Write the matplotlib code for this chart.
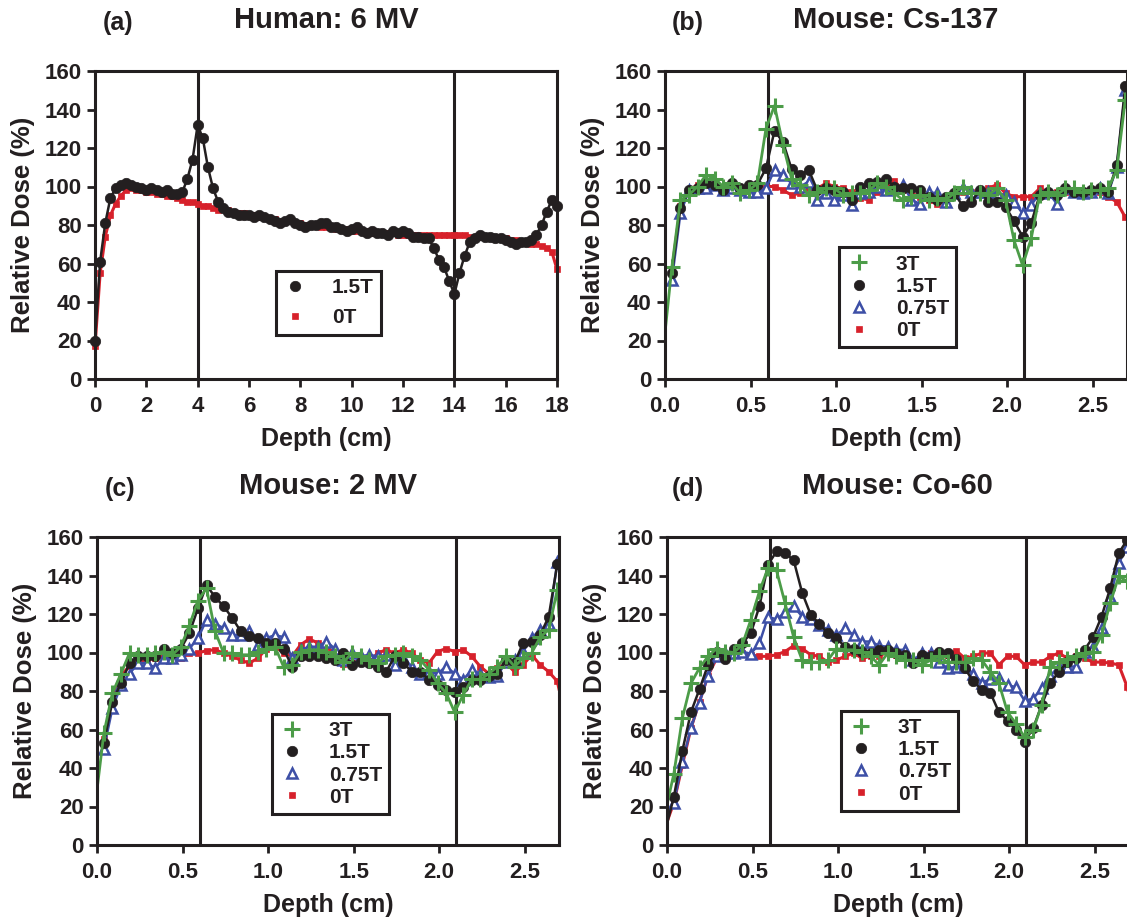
import numpy as np
import matplotlib
matplotlib.use("Agg")
import matplotlib.pyplot as plt
from matplotlib.lines import Line2D

plt.rcParams['font.family'] = ['Liberation Sans', 'DejaVu Sans']
plt.rcParams['font.weight'] = 'bold'

INK = '#231f20'
RED = '#d7212b'
GREEN = '#4c9c48'
BLUE = '#3d4fa6'

# --- (a) human 6 MV, depth grid 0..18 cm every 0.2 cm
depth_human = np.round(np.arange(0, 18.01, 0.2), 1)
human_15T = [20, 61, 81, 94, 99,   101, 102, 101, 100, 99,
             98, 99, 98, 97, 98,   96, 96, 97, 104, 114,
             132, 125, 110, 99, 92,   89, 87, 86, 85, 85,
             85, 84, 85, 84, 83,   82, 81, 82, 83, 81,
             80, 79, 80, 80, 81,   81, 79, 79, 78, 77,
             78, 79, 77, 76, 77,   76, 76, 75, 77, 76,
             77, 76, 74, 74, 73,   73, 68, 62, 58, 51,
             44, 55, 64, 71, 73,   75, 74, 74, 73, 73,
             72, 71, 70, 71, 71,   72, 75, 80, 87, 93,
             90]
human_0T = [17, 55, 74, 85, 91,   95, 98, 99, 98, 98,
            97, 97, 96, 96, 95,   95, 94, 93, 92, 92,
            91, 90, 90, 89, 88,   89, 88, 87, 86, 86,
            85, 85, 84, 84, 83,   83, 82, 82, 82, 81,
            81, 80, 80, 80, 79,   79, 79, 78, 78, 78,
            77, 77, 77, 77, 76,   76, 76, 76, 76, 75,
            75, 75, 75, 75, 75,   75, 75, 75, 75, 75,
            75, 75, 75, 74, 74,   74, 74, 74, 73, 73,
            73, 72, 72, 71, 71,   70, 70, 69, 68, 66,
            57]

# --- mouse panels: surface point, 0.04..2.69 cm every 0.05 cm, edge point
depth_mouse = np.round(np.concatenate(([0.0], np.arange(0.04, 2.695, 0.05), [2.7])), 3)
nan = np.nan

# (b) Cs-137
cs_3T = [24,
         58, 93, 95.6, 100, 106, 104, 100, 101.6, 96.5, 98,
         101.6, 130, 142, 121.6, 104, 101, 95.6, 97, 99, 99,
         95.6, 96.5, 96.5, 98, 101.6, 100, 96.5, 93, 94.7, 95.6,
         93, 94, 93, 96.5, 100, 96.5, 96.5, 95.6, 99, 93,
         72, 59, 73, 95.6, 97, 95.6, 99, 99, 97, 98,
         98, 99, 108.6, 145,
         nan]
cs_15T = [nan,
          55, 88.6, 98, 99, 101.6, 101, 98, 101.6, 99, 101,
          101, 109.4, 129, 123, 109, 106, 108.6, 98, 99, 98,
          97, 93, 100, 101.6, 102.5, 104, 100, 99, 99, 98,
          94.7, 93, 94.7, 96.5, 90, 92, 98, 92, 92, 89.5,
          82, 74, 81, 95.6, 97, 95.6, 99, 97, 97, 98,
          99, 97, 111, 152,
          nan]
cs_075T = [nan,
           51.4, 86, 98, 99, 99, 101, 98, 99, 98, 97,
           97, 99, 108.6, 106, 101.6, 100, 102.5, 93, 96.5, 93,
           95.6, 90.4, 96.5, 97, 100, 98, 99, 101, 93, 91,
           97, 96.5, 92, 96.5, 99, 97, 97, 97, 96.5, 95.6,
           92, 86, 90.4, 96.5, 97, 91, 99, 97, 96.5, 97,
           99, 96.5, 110, 150,
           nan]
cs_0T = [nan,
         56, 90, 98, 101, 101, 100, 99, 99, 99, 98,
         99, 100, 100, 98, 95.6, 96.5, 99, 99, 101.6, 100,
         99, 97, 94, 93, 97, 101, 103, 98, 96.5, 94.7,
         93, 91, 92, 95.6, 97, 97, 97, 99, 101, 96.5,
         94.7, 94.7, 94.7, 99, 97, 97, 97, 97, 97, 97,
         97, 94.7, 92, 84,
         nan]

# (c) 2 MV
mv2_3T = [28.6,
          58, 79, 89, 99.7, 98.8, 98.8, 99.7, 100.5, 98.8, 103,
          114, 127, 133.4, 111, 99.7, 99.7, 98.8, 98.8, 100.5, 102,
          103, 92.7, 93.6, 100.5, 101.4, 101.4, 100.5, 98, 95, 99.7,
          98, 96, 94.5, 98, 98.8, 99.7, 98, 96, 91, 84,
          79, 69, 78, 86, 86, 89, 92.7, 98, 92.7, 97,
          99.7, 108, 111.8, 132.6,
          119]
mv2_15T = [nan,
           53, 74.5, 84, 94.5, 98, 98, 98, 102, 99.7, 102,
           110, 123, 135, 128.8, 124, 118, 111, 108.7, 107.5, 105,
           105, 102, 92.7, 98, 98, 98, 97, 96, 99.7, 93.6,
           95, 94.5, 92.7, 90, 98, 94.5, 90, 90, 85.8, 83,
           80.6, 79.7, 82, 85.8, 85.8, 88, 89, 96, 94.5, 105,
           105.7, 109, 118.7, 146,
           nan]
mv2_075T = [nan,
            50, 71, 83, 89, 94.5, 94.5, 92, 97, 97, 98.8,
            102, 107.5, 117, 115, 112.6, 109, 109, 111, 104, 107.5,
            109, 108, 97, 101.4, 103, 103, 105.7, 102, 96, 99.7,
            98, 98.8, 98, 98.8, 93.6, 97, 92.7, 89, 90, 89,
            92.7, 89, 85.8, 91, 89, 87.5, 88, 95, 96, 100.5,
            107.5, 111.8, 115, 147,
            nan]
mv2_0T = [nan,
          55, 75, 88, 93, 95, 96, 97, 98, 98, 97,
          99.7, 99.7, 101, 101.4, 99.7, 98, 96, 94.5, 97, 102,
          103, 100, 98, 104, 107, 105, 103, 99.7, 94, 94.5,
          96, 95, 99.7, 101.4, 99.7, 101.4, 99.7, 96, 94.5, 100.5,
          102, 100.5, 101.4, 98, 92.7, 89, 92, 94.5, 90, 93.6,
          98.8, 93.6, 90, 85,
          81]

# (d) Co-60
co_3T = [21,
         37, 66, 84, 92, 98, 102, 100.5, 100, 104, 117,
         131.7, 143.8, 142.6, 125.6, 108, 96, 95, 95, 96, 102,
         101.4, 101.4, 100.5, 98, 93.6, 99.7, 98, 96, 96, 93.6,
         96, 98, 95, 95, 95, 97, 96, 90, 84, 69,
         63, 56, 59.8, 72.8, 92.7, 95, 96.5, 98, 99.7, 100.5,
         109, 125.6, 139.5, 137,
         128]
co_15T = [11,
          25, 49, 69, 81, 93.6, 100.5, 96.5, 102, 104.8, 110,
          124, 145.6, 152.5, 151.6, 148, 131, 119.6, 115, 110, 107.5,
          103, 102, 100.5, 99.7, 101.4, 101.4, 99.7, 98.8, 94.5, 98.8,
          98, 100.5, 99.7, 96.5, 91.8, 85, 80.6, 79, 69, 64.6,
          59.8, 53.7, 60.7, 72.8, 84, 90, 95, 97, 101.4, 108,
          118.7, 133.4, 151.6, 158.6,
          nan]
co_075T = [17,
           21.7, 43, 60.7, 74, 88, 98, 99.7, 99.7, 100.5, 99.3,
           104.8, 118.4, 117.3, 120.8, 124, 118.7, 117.3, 114.4, 111.8, 109,
           112.6, 109, 105.7, 105.7, 103.5, 103, 101.4, 101.4, 96, 99.7,
           99.7, 95, 91.8, 92.7, 92.7, 89, 84.4, 86, 86.6, 83,
           82, 75, 76, 81.5, 88, 92.7, 92.7, 92.7, 100.5, 103,
           112.6, 128.8, 146.4, 155,
           nan]
co_0T = [12,
         22, 41.6, 60.7, 74.5, 88, 97, 99, 99.5, 100, 98.8,
         98, 98, 98.8, 100.5, 103.5, 102, 98.8, 98, 95, 96,
         98, 99.7, 97, 98, 98, 100.5, 98.8, 99.7, 94.5, 98,
         99.7, 98, 98.8, 101, 97, 98, 99.7, 99.7, 93.6, 98,
         98, 93.6, 95, 95, 98, 99.7, 97, 98, 97, 95,
         95, 94.5, 93.6, 82,
         78]

STYLE = {
    '3T':    dict(color=GREEN, marker='+', ms=11, mew=2.2, mfc=GREEN, mec=GREEN, lw=2.0, zorder=5),
    '1.5T':  dict(color=INK, marker='o', ms=7.5, mew=0.5, mfc=INK, mec=INK, lw=1.8, zorder=4),
    '0.75T': dict(color=BLUE, marker='^', ms=7.5, mew=1.8, mfc='white', mec=BLUE, lw=1.8, zorder=3),
    '0T':    dict(color=RED, marker='s', ms=5, mew=0.5, mfc=RED, mec=RED, lw=2.2, zorder=2),
}


def legend_handle(label):
    st = STYLE[label]
    return Line2D([], [], ls='none', marker=st['marker'], ms=st['ms'], mew=st['mew'],
                  mfc=st['mfc'], mec=st['mec'], label=label)


def panel(ax, depth, series, xlim, xticks, vlines, tick_fmt, markevery, leg_xy,
          spacing=0.15, clip=True):
    for label, vals in series:
        st = dict(STYLE[label])
        ax.plot(depth, vals, markevery=markevery, clip_on=clip, **st)
    for v in vlines:
        ax.axvline(v, color=INK, lw=2.2, zorder=1.5)
    ax.set_xlim(*xlim)
    ax.set_ylim(0, 160)
    ax.set_xticks(xticks)
    ax.set_xticklabels([tick_fmt.format(t) for t in xticks])
    ax.set_yticks(np.arange(0, 161, 20))
    for sp in ax.spines.values():
        sp.set_linewidth(2.2)
        sp.set_color(INK)
        sp.set_zorder(6)
    ax.tick_params(direction='out', length=5.5, width=2, labelsize=16, pad=4,
                   colors=INK, top=False, right=False)
    ax.tick_params(axis='x', pad=7)
    ax.set_xlabel('Depth (cm)', fontsize=18, fontweight='bold', color=INK, va='center')
    ax.set_ylabel('Relative Dose (%)', fontsize=18.5, fontweight='bold', color=INK, va='center')
    ax.xaxis.set_label_coords(0.5, -0.195)
    ax.yaxis.set_label_coords(-0.156, 0.5)
    leg = ax.legend(handles=[legend_handle(l) for l, _ in series], loc='center',
                    bbox_to_anchor=leg_xy, fontsize=15, frameon=True, fancybox=False,
                    edgecolor=INK, framealpha=1, handlelength=1.2, handletextpad=1.15,
                    borderpad=0.35, labelspacing=spacing, borderaxespad=0)
    leg.get_frame().set_linewidth(2.2)
    leg.set_zorder(7)
    for t in leg.get_texts():
        t.set_color(INK)
        t.set_fontweight('bold')


fig = plt.figure(figsize=(11.27, 9.19), dpi=100)
W, H = 1127, 919


def axes_at(left, top, width, height):
    return fig.add_axes([left / W, 1 - (top + height) / H, width / W, height / H])


ax_a = axes_at(95, 71, 462, 308)
ax_b = axes_at(665, 71, 462, 308)
ax_c = axes_at(97, 537, 462, 308)
ax_d = axes_at(667, 537, 462, 308)

mouse_ticks = [0.0, 0.5, 1.0, 1.5, 2.0, 2.5]
mouse_every = slice(1, len(depth_mouse) - 1)

panel(ax_a, depth_human, [('1.5T', human_15T), ('0T', human_0T)],
      (0, 18), list(range(0, 19, 2)), [4, 14], '{:d}', None, (0.505, 0.248),
      spacing=0.55, clip=False)
panel(ax_b, depth_mouse, [('3T', cs_3T), ('1.5T', cs_15T), ('0.75T', cs_075T), ('0T', cs_0T)],
      (0, 2.7), mouse_ticks, [0.6, 2.1], '{:.1f}', mouse_every, (0.504, 0.265))
panel(ax_c, depth_mouse, [('3T', mv2_3T), ('1.5T', mv2_15T), ('0.75T', mv2_075T), ('0T', mv2_0T)],
      (0, 2.7), mouse_ticks, [0.6, 2.1], '{:.1f}', mouse_every, (0.506, 0.263))
panel(ax_d, depth_mouse, [('3T', co_3T), ('1.5T', co_15T), ('0.75T', co_075T), ('0T', co_0T)],
      (0, 2.7), mouse_ticks, [0.6, 2.1], '{:.1f}', mouse_every, (0.504, 0.273))

# panel letters and titles
titles = [('(a)', 103, 'Human: 6 MV', 326, 20),
          ('(b)', 672, 'Mouse: Cs-137', 896, 20),
          ('(c)', 105, 'Mouse: 2 MV', 328, 486),
          ('(d)', 672, 'Mouse: Co-60', 897, 486)]
for letter, lx, title, tx, ty in titles:
    fig.text(lx / W, 1 - (ty + 3) / H, letter, ha='left', va='center', fontsize=18,
             fontweight='bold', color=INK)
    fig.text(tx / W, 1 - ty / H, title, ha='center', va='center', fontsize=21,
             fontweight='bold', color=INK)

fig.savefig('out.png', dpi=100)
